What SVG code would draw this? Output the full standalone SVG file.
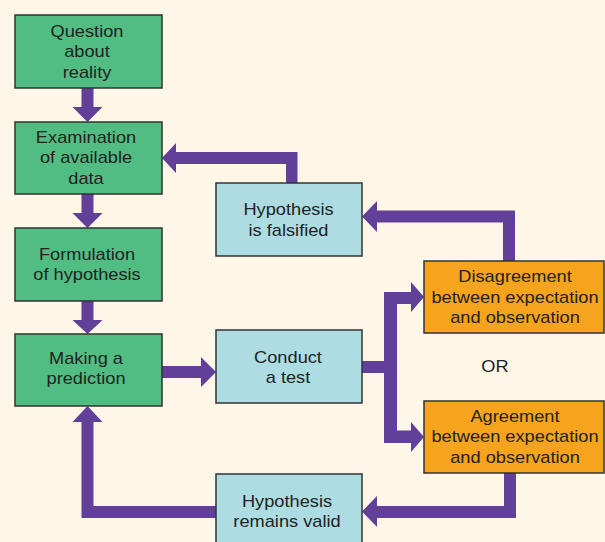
<svg xmlns="http://www.w3.org/2000/svg" width="605" height="542" viewBox="0 0 605 542">
<style>
.g{fill:#52BD82;stroke:#333;stroke-width:1.5}
.b{fill:#ADDDE3;stroke:#333;stroke-width:1.5}
.o{fill:#F6A41E;stroke:#333;stroke-width:1.5}
.a{fill:#623F98}
text{font-family:"Liberation Sans",Arial,sans-serif;font-size:16px;fill:#222;text-anchor:middle}
</style>
<rect width="605" height="542" fill="#FEF7E7"/>
<g id="connectors">
<polygon class="a" points="81.5,88 93.5,88 93.5,107 102.5,107 87.5,122 72.5,107 81.5,107"/>
<polygon class="a" points="81.5,194 93.5,194 93.5,213 102.5,213 87.5,228 72.5,213 81.5,213"/>
<polygon class="a" points="81.5,301 93.5,301 93.5,320 102.5,320 87.5,334 72.5,320 81.5,320"/>
<polygon class="a" points="162,366 201,366 201,357 216,372 201,387 201,378 162,378"/>
<polygon class="a" points="286,183 286,164 176,164 176,173 162,158 176,143 176,152 297.5,152 297.5,183"/>
<polygon class="a" points="503,261 503,222.5 377,222.5 377,232 362,216.5 377,201 377,210.5 515,210.5 515,261"/>
<polygon class="a" points="362,361 384,361 384,292 411,292 411,282 424,297 411,312 411,304 397,304 397,430.5 411,430.5 411,422 424,437 411,452 411,443 384,443 384,373 362,373"/>
<polygon class="a" points="504,473 516,473 516,518 377,518 377,527 362,511.5 377,496 377,506 504,506"/>
<polygon class="a" points="216,506 93.5,506 93.5,422 102.5,422 87.5,406 72.5,422 81.5,422 81.5,518 216,518"/>
</g>
<g id="question">
<rect class="g" x="15" y="15" width="147" height="73"/>
<text transform="translate(87,0) scale(1.14,1)"><tspan x="0" y="37">Question</tspan><tspan x="0" y="57.5">about</tspan><tspan x="0" y="78">reality</tspan></text>
</g>
<g id="examination">
<rect class="g" x="15" y="122" width="147" height="72"/>
<text transform="translate(86,0) scale(1.14,1)"><tspan x="0" y="143">Examination</tspan><tspan x="0" y="163.5">of available</tspan><tspan x="0" y="184">data</tspan></text>
</g>
<g id="formulation">
<rect class="g" x="15" y="228" width="147" height="73"/>
<text transform="translate(87,0) scale(1.14,1)"><tspan x="0" y="260">Formulation</tspan><tspan x="0" y="280.5">of hypothesis</tspan></text>
</g>
<g id="prediction">
<rect class="g" x="15" y="334" width="147" height="72"/>
<text transform="translate(86,0) scale(1.14,1)"><tspan x="0" y="364">Making a</tspan><tspan x="0" y="384">prediction</tspan></text>
</g>
<g id="conduct">
<rect class="b" x="216" y="330" width="146" height="73"/>
<text transform="translate(288,0) scale(1.14,1)"><tspan x="0" y="363">Conduct</tspan><tspan x="0" y="383">a test</tspan></text>
</g>
<g id="falsified">
<rect class="b" x="216" y="183" width="146" height="73"/>
<text transform="translate(288.5,0) scale(1.14,1)"><tspan x="0" y="215.5">Hypothesis</tspan><tspan x="0" y="236.5">is falsified</tspan></text>
</g>
<g id="disagreement">
<rect class="o" x="424" y="261" width="180" height="72"/>
<text transform="translate(515,0) scale(1.14,1)"><tspan x="0" y="282.5">Disagreement</tspan><tspan x="0" y="303">between expectation</tspan><tspan x="0" y="323.5">and observation</tspan></text>
</g>
<g id="or">
<text transform="translate(495,0) scale(1.14,1)"><tspan x="0" y="372">OR</tspan></text>
</g>
<g id="agreement">
<rect class="o" x="424" y="401" width="180" height="72"/>
<text transform="translate(515,0) scale(1.14,1)"><tspan x="0" y="422">Agreement</tspan><tspan x="0" y="442.5">between expectation</tspan><tspan x="0" y="463">and observation</tspan></text>
</g>
<g id="valid">
<rect class="b" x="216" y="474" width="146" height="80"/>
<text transform="translate(287,0) scale(1.14,1)"><tspan x="0" y="507.5">Hypothesis</tspan><tspan x="0" y="527">remains valid</tspan></text>
</g>
</svg>
